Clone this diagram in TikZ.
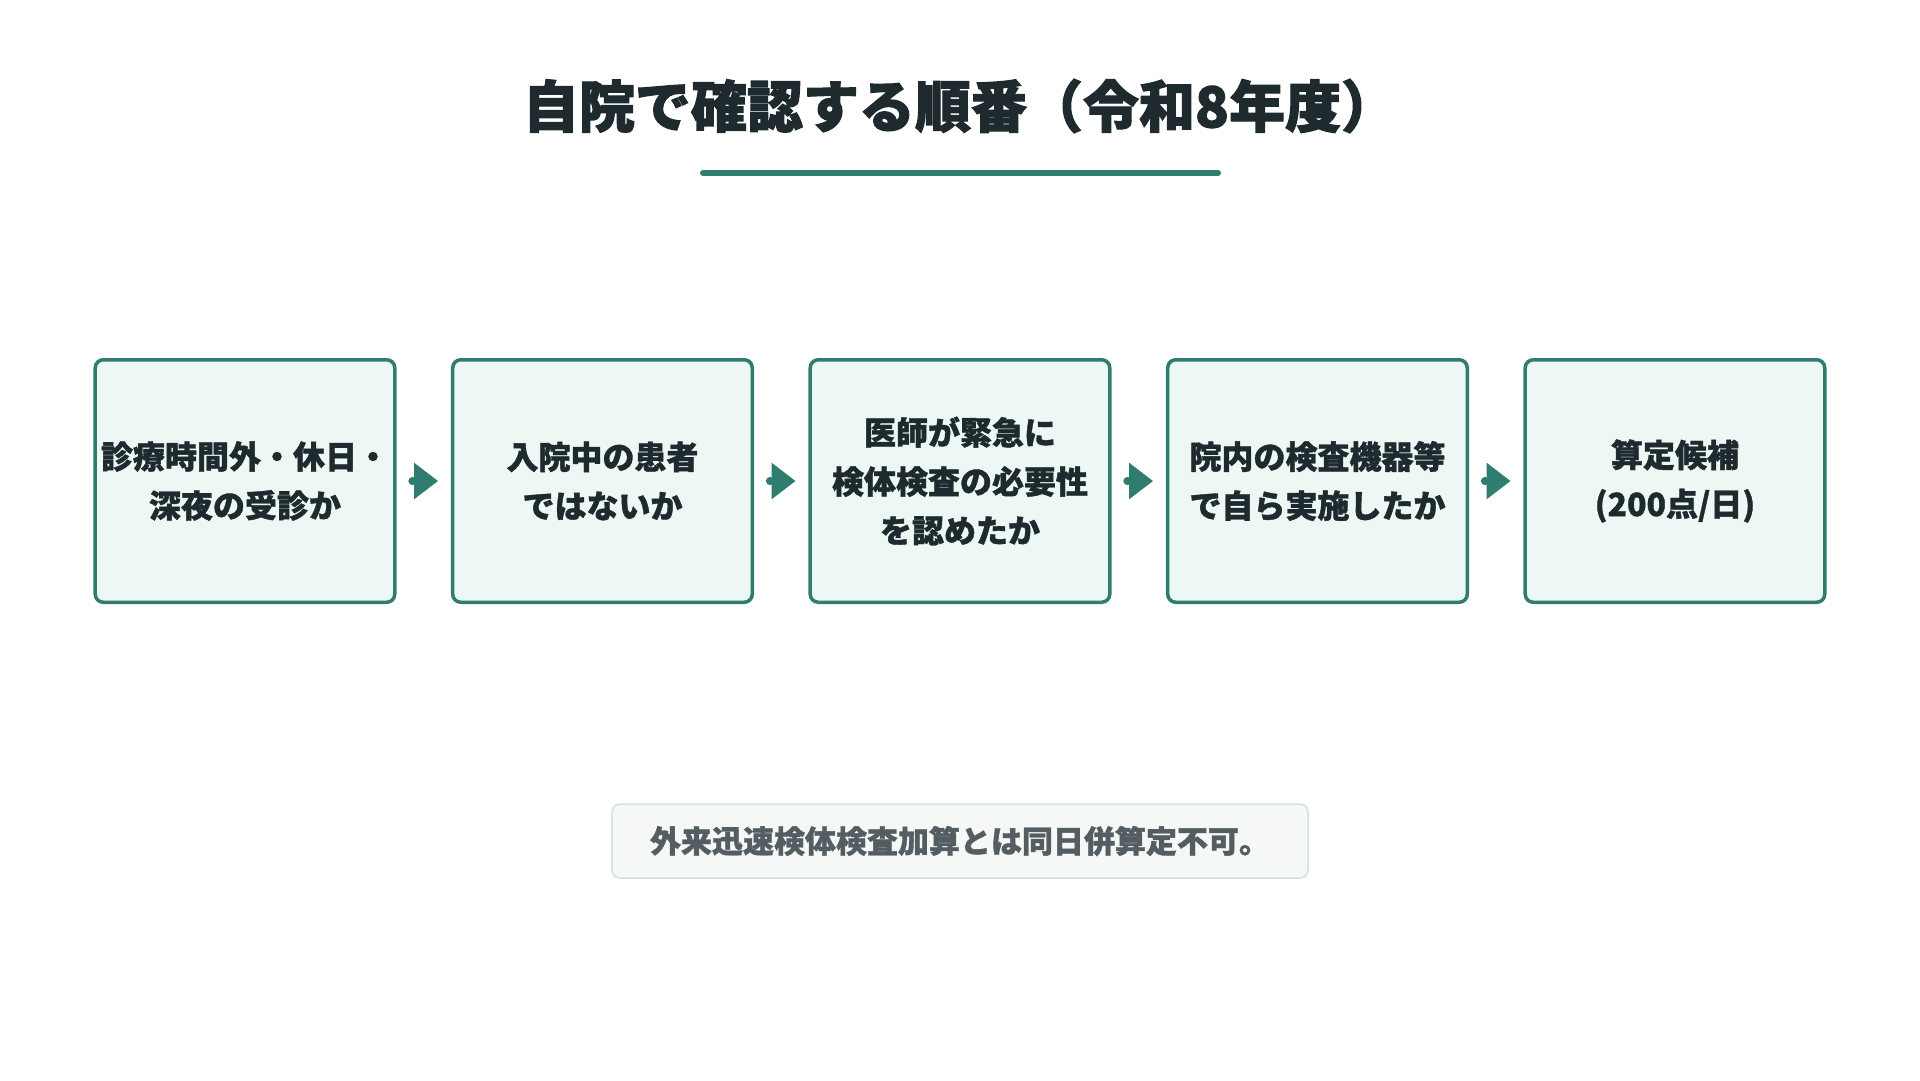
\documentclass[tikz,border=0pt]{standalone}
\usepackage{fontspec}
\setmainfont{Noto Sans CJK JP}
\newfontfamily\jpfont{Noto Sans CJK JP}[BoldFeatures={FakeBold=1.2}]
\newfontfamily\titlefont{Noto Sans CJK JP}[BoldFeatures={FakeBold=2}]
\usetikzlibrary{
  arrows.meta,
  matrix,
  chains,
  scopes,
  positioning
}
\definecolor{flowgreen}{HTML}{2E7D6E}
\definecolor{flowfill}{HTML}{EDF7F4}
\definecolor{inktext}{HTML}{1F2A2E}
\definecolor{notefill}{HTML}{F5F8F7}
\definecolor{noteline}{HTML}{CFE2DB}
\definecolor{notetext}{HTML}{545E62}

\begin{document}
\begin{tikzpicture}[x=1pt,y=-1pt,
      checkstep/.style={
         rectangle,
         rounded corners=8pt,
         minimum width=299.5pt,
         minimum height=242.5pt,
         line width=3.5pt,
         draw=flowgreen,
         fill=flowfill,
         text=inktext,
         align=center,
         inner sep=4pt,
         font=\jpfont\bfseries\fontsize{32}{49}\selectfont
      },
      notebox/.style={
         rectangle,
         rounded corners=8pt,
         line width=1.5pt,
         draw=noteline,
         fill=notefill,
         text=notetext,
         text width=620pt,
         inner xsep=38pt,
         minimum height=74pt,
         align=left,
         font=\jpfont\bfseries\fontsize{31}{40}\selectfont
      },
      heading/.style={
         text=inktext,
         font=\titlefont\bfseries\fontsize{56}{64}\selectfont
      },
      tip/.style={{Circle[length=8pt,width=8pt]}-{Triangle[length=24pt,width=36pt]},
         line width=3pt,draw=flowgreen,shorten <=12pt,shorten >=13pt},
    ]
    \useasboundingbox (0,0) rectangle (1920,1080);
    \node (title) [heading] at (960,106) {自院で確認する順番（令和8年度）};
    \coordinate (rule west) at (703,173);
    \coordinate (rule east) at (1218,173);
    \draw[line width=6pt,line cap=round,flowgreen] (rule west) -- (rule east);
    \matrix (steps) at (960,481) [column sep=54.5pt] {
\node (s1) [checkstep] {診療時間外・休日・\\深夜の受診か}; & \node (s2) [checkstep] {入院中の患者\\ではないか}; & \node (s3) [checkstep] {医師が緊急に\\検体検査の必要性\\を認めたか}; & \node (s4) [checkstep] {院内の検査機器等\\で自ら実施したか}; & \node (s5) [checkstep] {算定候補\\(200点/日)};\\
    };
  { [start chain]
       \chainin (s1);
       \chainin (s2)    [join=by tip];
       \chainin (s3)    [join=by tip];
       \chainin (s4)    [join=by tip];
       \chainin (s5)    [join=by tip];
  }
    \node (note) [notebox] at (960,841) {外来迅速検体検査加算とは同日併算定不可。};
\end{tikzpicture}
\end{document}
